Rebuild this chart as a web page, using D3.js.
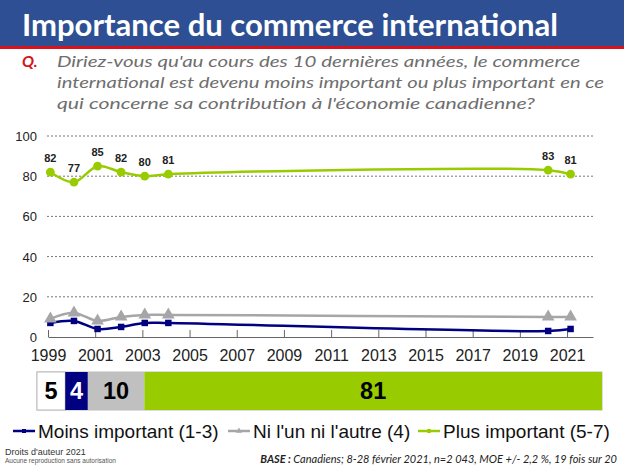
<!DOCTYPE html>
<html>
<head>
<meta charset="utf-8">
<script src="https://cdn.jsdelivr.net/npm/d3@7"></script>
<style>
  html, body { margin: 0; padding: 0; background: #fff; }
  svg { display: block; }
</style>
</head>
<body>
<svg id="chart" width="624" height="468"></svg>
<script>
// ---- Data ----
const titleText = "Importance du commerce international";
const questionLines = [
  "Diriez-vous qu'au cours des 10 dernières années, le commerce",
  "international est devenu moins important ou plus important en ce",
  "qui concerne sa contribution à l'économie canadienne?"
];
const years = [1999.1, 2000.1, 2001.1, 2002.1, 2003.1, 2004.1, 2020.2, 2021.15];
const moins = [7, 8, 4, 5, 7, 7, 3, 4];
const niLun = [9, 12, 8, 10, 11, 11, 10, 10];
const plus  = [82, 77, 85, 82, 80, 81, 83, 81];
const yTicks = [0, 20, 40, 60, 80, 100];
const xTicks = [1999, 2001, 2003, 2005, 2007, 2009, 2011, 2013, 2015, 2017, 2019, 2021];
const barCats = ["NSP", "Moins", "Ni", "Plus"];
const barVals = [5, 4, 10, 81];
const legendLabels = ["Moins important (1-3)", "Ni l'un ni l'autre (4)", "Plus important (5-7)"];

// ---- Setup ----
const svg = d3.select("#chart");
const BLUE = "#2E4F93", RED = "#D7141E";
const NAVY = "#000080", GRAY = "#A6A6A6", GREEN = "#99CC00";

// Title band
svg.append("rect").attr("x", 0).attr("y", 0).attr("width", 624).attr("height", 46).attr("fill", BLUE);
svg.append("rect").attr("x", 0).attr("y", 46).attr("width", 624).attr("height", 3).attr("fill", RED);
svg.append("text").attr("x", 22).attr("y", 36)
  .attr("font-family", "Lato, 'Open Sans', sans-serif").attr("font-weight", "bold")
  .attr("font-size", 31).attr("fill", "#fff")
  .attr("textLength", 536).attr("lengthAdjust", "spacingAndGlyphs")
  .text(titleText);

// Question
svg.append("text").attr("x", 22).attr("y", 67)
  .attr("font-family", "Lato, 'Open Sans', sans-serif").attr("font-weight", "bold")
  .attr("font-style", "italic").attr("font-size", 16).attr("fill", RED).text("Q.");
const qWidths = [523, 547, 478];
questionLines.forEach((l, i) => {
  svg.append("text").attr("x", 57).attr("y", 67 + i * 21)
    .attr("font-family", "Lato, 'Open Sans', sans-serif").attr("font-style", "italic")
    .attr("font-size", 16).attr("fill", "#6E6E6E")
    .attr("textLength", qWidths[i]).attr("lengthAdjust", "spacingAndGlyphs")
    .text(l);
});

// ---- Line chart ----
const x = d3.scaleLinear().domain([1999, 2022.1]).range([48, 593]);
const y = d3.scaleLinear().domain([0, 100]).range([337, 136]);
const g = svg.append("g");

// grid
g.selectAll("line.grid").data(yTicks.filter(d => d > 0)).join("line")
  .attr("x1", 47).attr("x2", 594).attr("y1", d => y(d)).attr("y2", d => y(d))
  .attr("stroke", "#777").attr("stroke-width", 1).attr("stroke-dasharray", "2,2");

// y labels
g.selectAll("text.ylab").data(yTicks).join("text")
  .attr("x", 37).attr("y", d => y(d) + 5).attr("text-anchor", "end")
  .attr("font-family", "'Liberation Sans', Arial, sans-serif").attr("font-size", 13)
  .attr("fill", "#222").text(d => d);

// x axis
const xAxis = d3.axisBottom(x).tickValues(xTicks).tickFormat(d3.format("d")).tickSize(7).tickSizeOuter(0);
const ax = g.append("g").attr("transform", `translate(0,${y(0)})`).call(xAxis);
ax.select(".domain").attr("stroke", "#666");
ax.selectAll(".tick line").attr("stroke", "#666").attr("transform", "translate(0,-7)");
ax.selectAll(".tick text").attr("font-family", "'Liberation Sans', Arial, sans-serif")
  .attr("font-size", 16).attr("fill", "#222").attr("dy", 0).attr("y", 24);

const series = [
  { vals: moins, color: NAVY, shape: "square" },
  { vals: niLun, color: GRAY, shape: "triangle" },
  { vals: plus, color: GREEN, shape: "circle" }
];
const line = d3.line().x(d => x(d[0])).y(d => y(d[1])).curve(d3.curveCatmullRom.alpha(0.5));
series.forEach(s => {
  const pts = years.map((yr, i) => [yr, s.vals[i]]);
  g.append("path").attr("d", line(pts)).attr("fill", "none")
    .attr("stroke", s.color).attr("stroke-width", 2.5);
  const sym = s.shape === "square" ? d3.symbolSquare : s.shape === "triangle" ? d3.symbolTriangle : d3.symbolCircle;
  const size = s.shape === "square" ? 42 : s.shape === "triangle" ? 70 : 60;
  g.selectAll(null).data(pts).join("path")
    .attr("transform", d => `translate(${x(d[0])},${y(d[1])})`)
    .attr("d", d3.symbol().type(sym).size(size)).attr("fill", s.color);
});
// value labels for plus
g.selectAll("text.vlab").data(years.map((yr, i) => [yr, plus[i]])).join("text")
  .attr("x", d => x(d[0])).attr("y", d => y(d[1]) - 10).attr("text-anchor", "middle")
  .attr("font-family", "'Liberation Sans', Arial, sans-serif").attr("font-weight", "bold")
  .attr("font-size", 11).attr("fill", "#222").text(d => d[1]);

// ---- Stacked bar ----
const bx = d3.scaleLinear().domain([0, 100]).range([37, 602]);
const barColors = ["#FFFFFF", NAVY, "#C0C0C0", GREEN];
const barText = ["#000", "#fff", "#000", "#000"];
let cum = 0;
const segs = barVals.map((v, i) => { const s = { c: barCats[i], v, x0: cum, x1: cum + v, i }; cum += v; return s; });
svg.append("rect").attr("x", bx(0)).attr("y", 372).attr("width", bx(100) - bx(0)).attr("height", 38)
  .attr("fill", "none").attr("stroke", "#bbb");
svg.selectAll("rect.seg").data(segs).join("rect")
  .attr("x", d => bx(d.x0)).attr("y", 372).attr("width", d => bx(d.x1) - bx(d.x0)).attr("height", 38)
  .attr("fill", d => barColors[d.i]).attr("stroke", d => d.i === 0 ? "#bbb" : "none");
svg.selectAll("text.seg").data(segs).join("text")
  .attr("x", d => (bx(d.x0) + bx(d.x1)) / 2).attr("y", 399).attr("text-anchor", "middle")
  .attr("font-family", "'Liberation Sans', Arial, sans-serif").attr("font-weight", "bold")
  .attr("font-size", 23.5).attr("fill", d => barText[d.i]).text(d => d.v);

// ---- Legend ----
const legX = [13, 228, 418];
const legColors = [NAVY, GRAY, GREEN];
const legSyms = [d3.symbolSquare, d3.symbolTriangle, d3.symbolCircle];
legendLabels.forEach((l, i) => {
  const lg = svg.append("g").attr("transform", `translate(${legX[i]},431)`);
  lg.append("line").attr("x1", 0).attr("x2", 22).attr("y1", 0).attr("y2", 0)
    .attr("stroke", legColors[i]).attr("stroke-width", 2.5);
  lg.append("path").attr("transform", "translate(11,0)")
    .attr("d", d3.symbol().type(legSyms[i]).size(16)).attr("fill", legColors[i]);
  lg.append("text").attr("x", 25).attr("y", 7)
    .attr("font-family", "'Liberation Sans', Arial, sans-serif").attr("font-size", 19)
    .attr("fill", "#111").text(l);
});

// ---- Footer ----
svg.append("text").attr("x", 5).attr("y", 455)
  .attr("font-family", "'Liberation Sans', Arial, sans-serif").attr("font-size", 9).attr("fill", "#333")
  .text("Droits d'auteur 2021");
svg.append("text").attr("x", 5).attr("y", 463)
  .attr("font-family", "'Liberation Sans', Arial, sans-serif").attr("font-size", 6.5).attr("fill", "#555")
  .text("Aucune reproduction sans autorisation");
const base = svg.append("text").attr("x", 617).attr("y", 463).attr("text-anchor", "end")
  .attr("font-family", "Lato, 'Open Sans', sans-serif").attr("font-style", "italic")
  .attr("font-size", 11).attr("fill", "#222");
base.append("tspan").attr("font-weight", "bold").text("BASE : ");
base.append("tspan").text("Canadiens; 8-28 février 2021, n=2 043, MOE +/- 2,2 %, 19 fois sur 20");
</script>
</body>
</html>
